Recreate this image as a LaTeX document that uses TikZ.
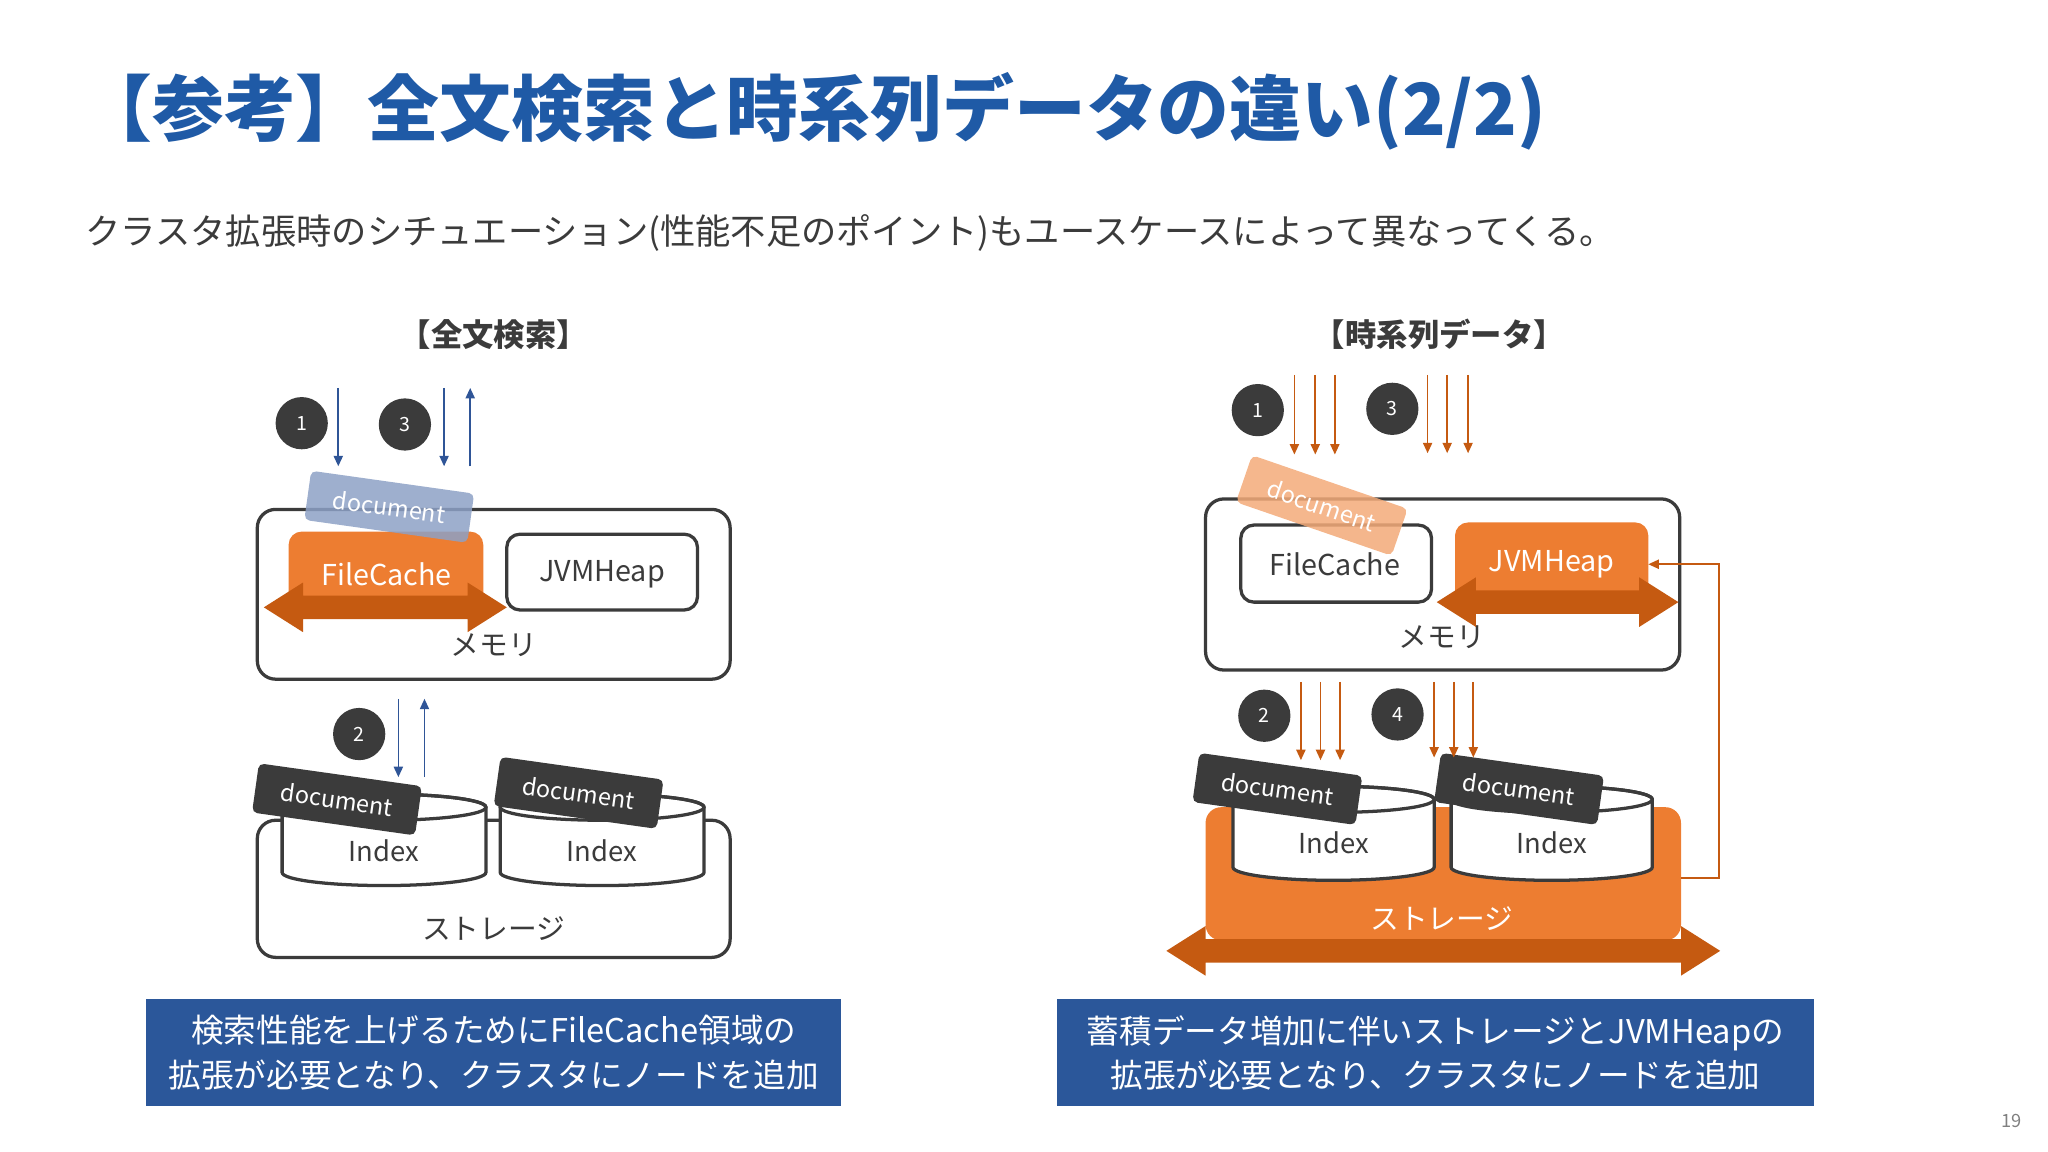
\documentclass[tikz,border=0pt]{standalone}
\usepackage{fontspec}
\setmainfont{Noto Sans CJK JP}
\usetikzlibrary{arrows.meta}
\definecolor{ttl}{HTML}{1F5AA6}
\definecolor{dk}{HTML}{3B3B3B}
\definecolor{bl}{HTML}{2F5597}
\definecolor{cap}{HTML}{2B579A}
\definecolor{org}{HTML}{ED7D31}
\definecolor{dorg}{HTML}{C55A11}
\newcommand\fsz[1]{\fontsize{#1}{#1}\selectfont}
\newcommand\dblarr[4]{% xl xr yc color
 \fill[#4] (#1,#3) -- (#1+30,#3-19) -- (#1+30,#3-9) -- (#2-30,#3-9) -- (#2-30,#3-19) -- (#2,#3) -- (#2-30,#3+19) -- (#2-30,#3+9) -- (#1+30,#3+9) -- (#1+30,#3+19) -- cycle;}
\newcommand\cyl[5]{% name cx rx ytop ybot
 \draw[line width=2.5pt,draw=dk,fill=white] (#2-#3,#4) -- (#2-#3,#5) arc[start angle=180,end angle=0,x radius=#3,y radius=10] -- (#2+#3,#4) arc[start angle=0,end angle=-180,x radius=#3,y radius=10];
 \draw[line width=2.5pt,draw=dk] (#2,#4) ellipse[x radius=#3,y radius=10];
 \node[font=\fsz{21},text=dk] (#1) at (#2,#4+33) {Index};}
\tikzset{
 x=1pt,y=-1pt,
 box/.style={draw=dk,line width=2.5pt,rounded corners=14pt},
 num/.style={circle,fill=dk,text=white,minimum size=40pt,inner sep=0,font=\fsz{15}},
 doc/.style={rounded corners=4pt,minimum width=126pt,minimum height=38pt,inner sep=0,font=\fsz{18},rotate=-8},
 ddoc/.style={doc,fill=dk,text=white},
 ba/.style={draw=bl,line width=1.3pt,-{Triangle[length=8pt,width=7pt]}},
 oa/.style={draw=dorg,line width=1.3pt,-{Triangle[length=8pt,width=7pt]}},
 capbox/.style={fill=cap,text=white,font=\fontsize{25}{34}\selectfont,align=center,inner sep=0},
}
\begin{document}
\begin{tikzpicture}
\useasboundingbox (0,0) rectangle (1568,882);
\node[anchor=west,text=ttl,font=\fsz{55}\bfseries] (title) at (58,85) {【参考】全文検索と時系列データの違い(2/2)};
\node[anchor=west,text=dk,font=\fsz{27}] (sub) at (62,178) {クラスタ拡張時のシチュエーション(性能不足のポイント)もユースケースによって異なってくる。};
\node[font=\fsz{24}\bfseries,text=dk] (h1) at (378,256) {【全文検索】};
\node[font=\fsz{24}\bfseries,text=dk] (h2) at (1102,256) {【時系列データ】};
% ---------- left
\draw[box] (197,390) rectangle (559,520);
\node[font=\fsz{22},text=dk] (mem1) at (378,494) {メモリ};
\fill[org,rounded corners=10pt] (221,470) rectangle (370,407);
\node[font=\fsz{22},text=white] (fc1) at (296,440) {FileCache};
\dblarr{202}{388}{465}{dorg}
\draw[box,rounded corners=10pt,fill=white] (388,409) rectangle (534,467);
\node[font=\fsz{22},text=dk] (jvm1) at (461,440) {JVMHeap};
\node[doc,fill=bl!55,fill opacity=0.85,text opacity=1,text=white] (d1) at (298,388) {document};
\node[num] (n1) at (231,324) {1};
\node[num] (n3) at (310,325) {3};
\node[num] (n2) at (275,562) {2};
\coordinate (a1s) at (259,297); \coordinate (a1e) at (259,357);
\draw[ba] (a1s) -- (a1e);
\coordinate (a3s) at (340,297); \coordinate (a3e) at (340,357);
\draw[ba] (a3s) -- (a3e);
\coordinate (a3u) at (360,357); \coordinate (a3v) at (360,297);
\draw[ba] (a3u) -- (a3v);
\coordinate (a2s) at (305,535); \coordinate (a2e) at (305,595);
\draw[ba] (a2s) -- (a2e);
\coordinate (a2u) at (325,595); \coordinate (a2v) at (325,535);
\draw[ba] (a2u) -- (a2v);
\draw[box] (197,628) rectangle (559,733);
\node[font=\fsz{22},text=dk] (st1) at (378,711) {ストレージ};
\cyl{i1}{294}{78}{618}{668}
\cyl{i2}{461}{78}{618}{668}
\node[ddoc] (d2) at (258,612) {document};
\node[ddoc] (d3) at (443,607) {document};
\node[capbox,minimum width=532pt,minimum height=82pt] (c1) at (378,806) {検索性能を上げるためにFileCache領域の\\拡張が必要となり、クラスタにノードを追加};
% ---------- right
\draw[box] (923,382) rectangle (1286,513);
\node[font=\fsz{22},text=dk] (mem2) at (1104,488) {メモリ};
\draw[box,rounded corners=10pt,fill=white] (950,402) rectangle (1096,461);
\node[font=\fsz{22},text=dk] (fc2) at (1022,432) {FileCache};
\fill[org,rounded corners=10pt] (1114,470) rectangle (1262,400);
\node[font=\fsz{22},text=white] (jvm2) at (1188,432) {JVMHeap};
\dblarr{1100}{1285}{461}{dorg}
\node[doc,fill=org!65,fill opacity=0.85,text opacity=1,text=white,rotate=-11] (d4) at (1012,387) {document};
\fill[org,rounded corners=12pt] (923,720) rectangle (1287,618);
\dblarr{893}{1317}{728}{dorg}
\node[font=\fsz{22},text=white] (st2) at (1104,703) {ストレージ};
\cyl{i3}{1021}{77}{612}{664}
\cyl{i4}{1188}{77}{612}{664}
\node[ddoc] (d5) at (978,604) {document};
\node[ddoc] (d6) at (1163,604) {document};
\node[num] (m1) at (963,314) {1};
\node[num] (m3) at (1066,313) {3};
\node[num] (m2) at (968,548) {2};
\node[num] (m4) at (1070,547) {4};
\foreach \x in {991,1007,1022} \draw[oa] (\x,287) -- (\x,348);
\foreach \x in {1093,1108,1124} \draw[oa] (\x,287) -- (\x,347);
\foreach \x in {996,1011,1026} \draw[oa] (\x,522) -- (\x,582);
\foreach \x in {1098,1113,1128} \draw[oa] (\x,522) -- (\x,580);
\coordinate (fb) at (1287,672);
\coordinate (fj) at (1262,432);
\draw[draw=dorg,line width=1.2pt,-{Triangle[length=8pt,width=7pt]}] (fb) -- (1316,672) -- (1316,432) -- (fj);
\node[capbox,minimum width=580pt,minimum height=82pt] (c2) at (1099,806) {蓄積データ増加に伴いストレージとJVMHeapの\\拡張が必要となり、クラスタにノードを追加};
\node[font=\fsz{14},text=gray] (pg) at (1540,858) {19};
\end{tikzpicture}
\end{document}
